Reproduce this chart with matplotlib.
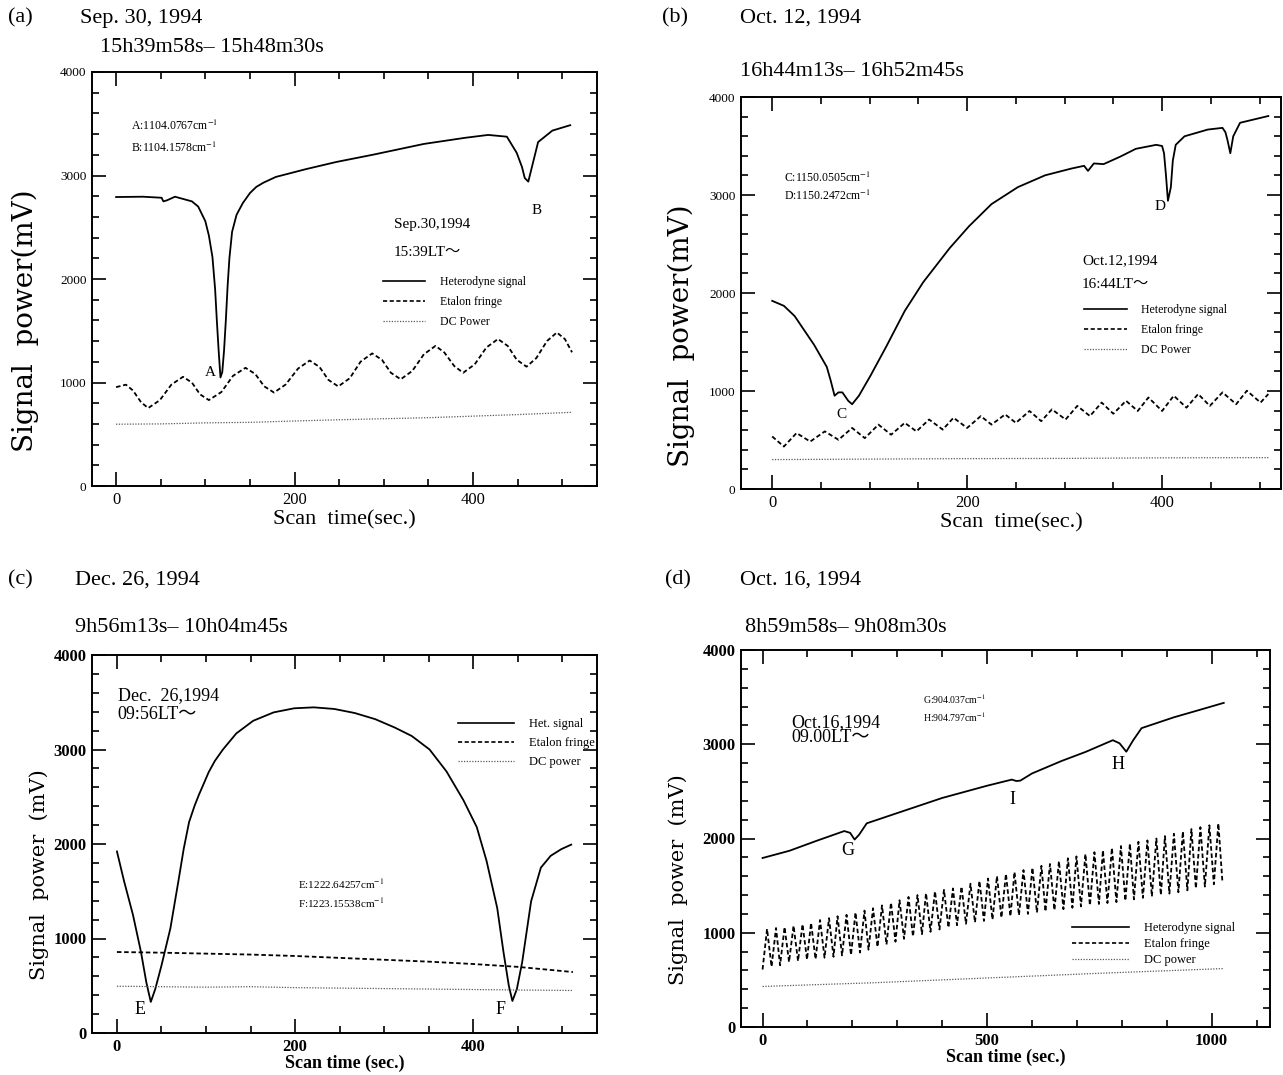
import matplotlib
matplotlib.use("Agg")
import matplotlib.pyplot as plt
import numpy as np
from matplotlib.ticker import MultipleLocator

plt.rcParams['font.family'] = ['Liberation Serif', 'DejaVu Serif', 'Noto Sans CJK JP']
plt.rcParams['mathtext.fontset'] = 'stix'

# ---- (a) Sep. 30, 1994 ----
het_a_t = [0, 30, 51, 53, 57, 66, 85, 92, 100, 104, 108, 111, 113, 115, 117, 119, 121, 123,
           125, 127, 130, 135, 142, 150, 157, 165, 179, 213, 247, 288, 345, 391, 417, 438,
           449, 455, 458, 462, 466, 473, 489, 509]
het_a_v = [2792, 2795, 2785, 2750, 2760, 2795, 2750, 2700, 2559, 2420, 2212, 1900, 1587, 1300,
           1049, 1100, 1309, 1600, 1934, 2200, 2455, 2620, 2733, 2830, 2889, 2930, 2986, 3062,
           3131, 3201, 3305, 3364, 3392, 3375, 3219, 3080, 2976, 2941, 3080, 3323, 3434, 3486]
fringe_a_t = [0, 11, 19, 28, 36, 49, 62, 75, 85, 94, 104, 118, 131, 145, 156, 166, 177, 190,
              204, 217, 228, 238, 249, 262, 274, 287, 298, 308, 319, 332, 345, 358, 368, 379,
              389, 402, 415, 428, 439, 449, 460, 471, 483, 494, 503, 511]
fringe_a_v = [955, 979, 922, 809, 753, 829, 980, 1055, 999, 886, 830, 908, 1064, 1142, 1082,
              963, 903, 980, 1135, 1212, 1150, 1025, 962, 1042, 1201, 1281, 1219, 1094, 1031,
              1112, 1273, 1354, 1289, 1159, 1094, 1176, 1338, 1420, 1353, 1220, 1153, 1236,
              1401, 1483, 1420, 1292]
dc_a_t = [0, 50, 100, 150, 200, 250, 300, 350, 400, 450, 511]
dc_a_v = [597, 600, 610, 615, 628, 640, 650, 660, 675, 690, 712]

# ---- (b) Oct. 12, 1994 ----
het_b_t = [0, 12, 23, 43, 56, 60, 64, 68, 72, 78, 82, 89, 101, 117, 136, 155, 182, 202, 225,
           252, 280, 307, 320, 324, 330, 340, 357, 373, 394, 400, 402, 404, 406, 409, 411, 414,
           423, 447, 462, 465, 467, 470, 473, 480, 509]
het_b_v = [1920, 1869, 1765, 1471, 1246, 1107, 952, 986, 986, 900, 865, 952, 1159, 1453, 1817,
           2111, 2457, 2682, 2907, 3080, 3201, 3270, 3298, 3246, 3322, 3315, 3391, 3471, 3512,
           3500, 3426, 3200, 2941, 3080, 3350, 3512, 3599, 3668, 3685, 3640, 3564, 3426, 3599,
           3737, 3806]
fringe_b_t = [0, 12, 25, 39, 54, 68, 82, 95, 109, 122, 136, 148, 161, 175, 186, 200, 214, 225,
              239, 250, 264, 276, 287, 301, 313, 326, 338, 350, 363, 375, 386, 400, 412, 425,
              437, 449, 462, 476, 487, 501, 509]
fringe_b_v = [536, 433, 571, 484, 588, 502, 623, 519, 657, 554, 675, 588, 709, 606, 727, 623,
              744, 657, 761, 675, 796, 692, 813, 709, 848, 744, 882, 768, 900, 796, 934, 796,
              952, 830, 969, 848, 986, 865, 1003, 882, 969]
dc_b_t = [0, 100, 200, 300, 400, 509]
dc_b_v = [300, 305, 310, 312, 318, 320]

# ---- (c) Dec. 26, 1994 ----
het_c_t = [0, 8, 18, 27, 33, 38, 43, 50, 60, 69, 75, 81, 87, 92, 98, 103, 110, 119, 134, 153,
           176, 199, 221, 244, 267, 290, 312, 331, 351, 370, 389, 404, 415, 427, 434, 440, 444,
           449, 455, 465, 476, 487, 499, 510]
het_c_v = [1921, 1607, 1250, 857, 536, 329, 464, 714, 1107, 1607, 1950, 2232, 2400, 2520, 2650,
           2760, 2880, 3000, 3170, 3304, 3393, 3436, 3446, 3429, 3386, 3321, 3232, 3143, 3000,
           2768, 2464, 2179, 1821, 1321, 857, 500, 339, 464, 750, 1393, 1750, 1875, 1946, 1993]
fringe_c_t = [0, 50, 100, 150, 200, 250, 300, 350, 400, 450, 512]
fringe_c_v = [857, 850, 840, 830, 815, 795, 775, 755, 730, 700, 645]
dc_c_t = [0, 50, 100, 150, 200, 250, 300, 350, 400, 450, 512]
dc_c_v = [495, 490, 485, 490, 480, 475, 470, 465, 460, 455, 450]

# ---- (d) Oct. 16, 1994 ----
het_d_t = [0, 60, 120, 182, 195, 205, 215, 232, 300, 400, 500, 555, 565, 574, 600, 665, 720,
           780, 795, 810, 825, 844, 916, 970, 1027]
het_d_v = [1793, 1870, 1975, 2079, 2060, 1989, 2040, 2161, 2270, 2430, 2560, 2625, 2610, 2614,
           2690, 2821, 2920, 3043, 3010, 2921, 3040, 3171, 3286, 3360, 3439]
trough_d_t = [0, 20, 39, 59, 79, 99, 118, 138, 158, 177, 197, 217, 236, 256, 276, 296, 315, 335,
              355, 374, 394, 414, 433, 453, 473, 493, 512, 532, 552, 571, 591, 611, 630, 650,
              670, 690, 709, 729, 749, 768, 788, 808, 827, 847, 867, 887, 906, 926, 946, 965,
              985, 1005, 1024]
trough_d_v = [610, 640, 655, 690, 700, 715, 720, 735, 745, 760, 765, 790, 820, 850, 875, 905,
              935, 960, 985, 1010, 1035, 1055, 1080, 1095, 1110, 1125, 1140, 1160, 1175, 1185,
              1200, 1215, 1225, 1240, 1250, 1265, 1280, 1290, 1305, 1315, 1325, 1340, 1355,
              1370, 1385, 1400, 1415, 1430, 1450, 1470, 1490, 1515, 1540]
peak_d_t = [10, 30, 49, 69, 89, 108, 128, 148, 167, 187, 207, 227, 246, 266, 286, 305, 325, 345,
            364, 384, 404, 424, 443, 463, 483, 502, 522, 542, 561, 581, 601, 621, 640, 660, 680,
            699, 719, 739, 758, 778, 798, 818, 837, 857, 877, 896, 916, 936, 955, 975, 995, 1015]
peak_d_v = [1040, 1050, 1060, 1075, 1090, 1105, 1135, 1155, 1175, 1190, 1215, 1235, 1260, 1290,
            1320, 1345, 1380, 1400, 1420, 1440, 1455, 1470, 1490, 1520, 1550, 1575, 1600, 1625,
            1645, 1665, 1690, 1710, 1730, 1760, 1790, 1810, 1835, 1855, 1875, 1900, 1920, 1945,
            1965, 1980, 2000, 2025, 2050, 2075, 2100, 2120, 2140, 2160]
dc_d_t = [0, 250, 500, 750, 1027]
dc_d_v = [430, 470, 520, 570, 620]

fringe_d_t = np.array(trough_d_t + peak_d_t)
fringe_d_v = np.array(trough_d_v + peak_d_v)
order = np.argsort(fringe_d_t)
fringe_d_t = fringe_d_t[order]
fringe_d_v = fringe_d_v[order]

W, H = 1283, 1075
fig = plt.figure(figsize=(W / 100, H / 100), dpi=100)


def box(x0, x1, y0, y1):
    return [x0 / W, 1 - y1 / H, (x1 - x0) / W, (y1 - y0) / H]


def style(ax, xlim, xmaj, xmin, xfs, yfs, bold=False):
    ax.set_xlim(xlim)
    ax.set_ylim(0, 4000)
    ax.xaxis.set_major_locator(MultipleLocator(xmaj))
    ax.xaxis.set_minor_locator(MultipleLocator(xmin))
    ax.yaxis.set_major_locator(MultipleLocator(1000))
    ax.yaxis.set_minor_locator(MultipleLocator(200))
    ax.tick_params(which='both', direction='in', top=True, right=True, width=1.2)
    ax.tick_params(which='major', length=10)
    ax.tick_params(which='minor', length=5)
    ax.tick_params(axis='x', labelsize=xfs, pad=4)
    ax.tick_params(axis='y', labelsize=yfs, pad=4)
    for s in ax.spines.values():
        s.set_linewidth(1.4)
    if bold:
        for lab in ax.get_xticklabels() + ax.get_yticklabels():
            lab.set_fontweight('bold')


def draw(ax, het, fringe, dc):
    ax.plot(*het, color='black', lw=1.3)
    ax.plot(*fringe, color='black', lw=1.3, ls=(0, (2.5, 1.5)))
    ax.plot(*dc, color='0.35', lw=0.9, ls=(0, (1, 1.2)))


def legend(ax, names, x, y, fs, spacing, hlen):
    hs = [plt.Line2D([], [], color='black', lw=1.2),
          plt.Line2D([], [], color='black', lw=1.2, ls=(0, (2.5, 1.5))),
          plt.Line2D([], [], color='0.35', lw=0.9, ls=(0, (1, 1.2)))]
    ax.legend(hs, names, loc='upper left', bbox_to_anchor=(x, y),
              bbox_transform=ax.transData, frameon=False, fontsize=fs,
              handlelength=hlen, labelspacing=spacing, borderpad=0, borderaxespad=0,
              handletextpad=1.2)


# panel (a)
ax = fig.add_axes(box(92, 597, 72, 486))
draw(ax, (het_a_t, het_a_v), (fringe_a_t, fringe_a_v), (dc_a_t, dc_a_v))
style(ax, (-27, 539), 200, 50, 12, 9.5)
ax.set_xlabel('Scan  time(sec.)', fontsize=16, labelpad=2)
ax.set_ylabel('Signal  power(mV)', fontsize=20, family='DejaVu Serif')
ax.yaxis.set_label_coords(-0.105, 0.40)
ax.text(17, 3480, 'A:1104.0767cm$^{-1}$', fontsize=8.5, va='center')
ax.text(17, 3270, 'B:1104.1578cm$^{-1}$', fontsize=8.5, va='center')
ax.text(311, 2530, 'Sep.30,1994', fontsize=11, va='center')
ax.text(311, 2260, '15:39LT～', fontsize=11, va='center')
ax.text(100, 1100, 'A', fontsize=11, va='center')
ax.text(466, 2660, 'B', fontsize=11, va='center')
legend(ax, ['Heterodyne signal', 'Etalon fringe', 'DC Power'], 299, 2030, 8.5, 0.7, 3.6)

# panel (b)
ax = fig.add_axes(box(741, 1281, 97, 489))
draw(ax, (het_b_t, het_b_v), (fringe_b_t, fringe_b_v), (dc_b_t, dc_b_v))
style(ax, (-32, 522), 200, 50, 12, 9.5)
ax.set_xlabel('Scan  time(sec.)', fontsize=16, labelpad=2)
ax.set_ylabel('Signal  power(mV)', fontsize=20, family='DejaVu Serif')
ax.yaxis.set_label_coords(-0.085, 0.39)
ax.text(12, 3180, 'C:1150.0505cm$^{-1}$', fontsize=8.5, va='center')
ax.text(12, 2990, 'D:1150.2472cm$^{-1}$', fontsize=8.5, va='center')
ax.text(318, 2330, 'Oct.12,1994', fontsize=11, va='center')
ax.text(318, 2090, '16:44LT～', fontsize=11, va='center')
ax.text(66, 760, 'C', fontsize=11, va='center')
ax.text(392, 2884, 'D', fontsize=11, va='center')
legend(ax, ['Heterodyne signal', 'Etalon fringe', 'DC Power'], 320, 1890, 8.5, 0.7, 3.6)

# panel (c)
ax = fig.add_axes(box(92, 597, 655, 1033))
draw(ax, (het_c_t, het_c_v), (fringe_c_t, fringe_c_v), (dc_c_t, dc_c_v))
style(ax, (-28, 539), 200, 50, 12, 12, bold=True)
ax.set_xlabel('Scan time (sec.)', fontsize=13, fontweight='bold', labelpad=0)
ax.set_ylabel('Signal  power  (mV)', fontsize=15, family='DejaVu Serif')
ax.yaxis.set_label_coords(-0.085, 0.42)
ax.text(1, 3571, 'Dec.  26,1994', fontsize=13, va='center')
ax.text(1, 3375, '09:56LT～', fontsize=13, va='center')
ax.text(203, 1571, 'E:1222.64257cm$^{-1}$', fontsize=8, va='center')
ax.text(203, 1375, 'F:1223.15538cm$^{-1}$', fontsize=8, va='center')
ax.text(20, 250, 'E', fontsize=13, va='center')
ax.text(425, 250, 'F', fontsize=13, va='center')
legend(ax, ['Het. signal', 'Etalon fringe', 'DC power'], 383, 3330, 9, 0.55, 4.5)

# panel (d)
ax = fig.add_axes(box(741, 1270, 650, 1027))
draw(ax, (het_d_t, het_d_v), (fringe_d_t, fringe_d_v), (dc_d_t, dc_d_v))
style(ax, (-48, 1130), 500, 100, 12, 12, bold=True)
ax.set_xlabel('Scan time (sec.)', fontsize=13, fontweight='bold', labelpad=0)
ax.set_ylabel('Signal  power  (mV)', fontsize=15, family='DejaVu Serif')
ax.yaxis.set_label_coords(-0.1, 0.39)
ax.text(65, 3232, 'Oct.16,1994', fontsize=13, va='center')
ax.text(65, 3071, '09.00LT～', fontsize=13, va='center')
ax.text(357, 3482, 'G:904.037cm$^{-1}$', fontsize=7, va='center')
ax.text(357, 3286, 'H:904.797cm$^{-1}$', fontsize=7, va='center')
ax.text(176, 1875, 'G', fontsize=13, va='center')
ax.text(777, 2786, 'H', fontsize=13, va='center')
ax.text(550, 2411, 'I', fontsize=13, va='center')
legend(ax, ['Heterodyne signal', 'Etalon fringe', 'DC power'], 690, 1110, 9, 0.3, 4.5)


# panel headings
def heading(x_tag, x_txt, x_sub, y_top, y_sub, tag, date, span):
    fig.text(x_tag / W, 1 - y_top / H, tag, fontsize=16, va='center')
    fig.text(x_txt / W, 1 - y_top / H, date, fontsize=16, va='center')
    fig.text(x_sub / W, 1 - y_sub / H, span, fontsize=16, va='center')


heading(8, 80, 100, 18, 47, '(a)', 'Sep. 30, 1994', '15h39m58s– 15h48m30s')
heading(662, 740, 740, 18, 72, '(b)', 'Oct. 12, 1994', '16h44m13s– 16h52m45s')
heading(8, 75, 75, 580, 627, '(c)', 'Dec. 26, 1994', '9h56m13s– 10h04m45s')
heading(665, 740, 745, 580, 627, '(d)', 'Oct. 16, 1994', '8h59m58s– 9h08m30s')

fig.savefig('out.png', dpi=100)
